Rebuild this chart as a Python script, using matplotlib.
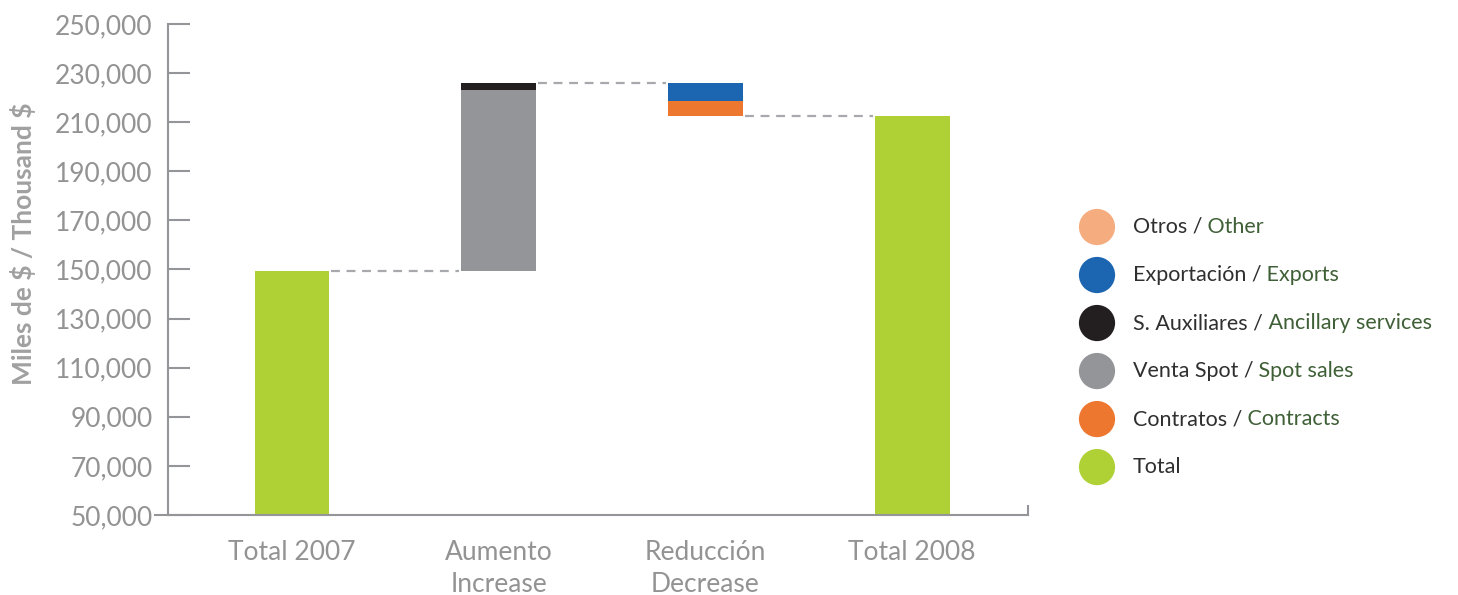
import matplotlib.pyplot as plt

# Ingresos 2007 -> 2008 (miles de $)
categorias = ['Total 2007', 'Aumento\nIncrease', 'Reducción\nDecrease', 'Total 2008']
total_2007 = 149500
aumento_spot = 73600
aumento_auxiliares = 2900
reduccion_exportacion = 7400
reduccion_contratos = 6100
total_2008 = 212500

yticks = list(range(50000, 250001, 20000))

leyenda_es = ['Otros /', 'Exportación /', 'S. Auxiliares /', 'Venta Spot /', 'Contratos /', 'Total']
leyenda_en = ['Other', 'Exports', 'Ancillary services', 'Spot sales', 'Contracts', '']

VERDE = '#afd136'
GRIS = '#939598'
NEGRO = '#231f20'
AZUL = '#1c66b1'
NARANJA = '#ee7730'
SALMON = '#f5ad80'
colores_leyenda = [SALMON, AZUL, NEGRO, GRIS, NARANJA, VERDE]

EJE = '#939598'
TEXTO = '#939393'

plt.rcParams['font.family'] = ['Lato', 'DejaVu Sans']

fig = plt.figure(figsize=(14.58, 5.95), dpi=100)
ax = fig.add_axes([0.1152, 0.1345, 0.5898, 0.8252])

ancho = 0.362
x = list(range(len(categorias)))

# barras de totales
ax.bar(x[0], total_2007, width=ancho, color=VERDE)
ax.bar(x[3], total_2008, width=ancho, color=VERDE)

# aumento
ax.bar(x[1], aumento_spot, bottom=total_2007, width=ancho, color=GRIS)
ax.bar(x[1], aumento_auxiliares, bottom=total_2007 + aumento_spot, width=ancho, color=NEGRO)

# reduccion
pico = total_2007 + aumento_spot + aumento_auxiliares
ax.bar(x[2], reduccion_exportacion, bottom=pico - reduccion_exportacion, width=ancho, color=AZUL)
ax.bar(x[2], reduccion_contratos, bottom=pico - reduccion_exportacion - reduccion_contratos,
       width=ancho, color=NARANJA)

# lineas de union entre barras
niveles = [total_2007, pico, pico - reduccion_exportacion - reduccion_contratos]
for i, nivel in enumerate(niveles):
    ax.plot([x[i] + ancho / 2 + 0.01, x[i + 1] - ancho / 2 - 0.01], [nivel, nivel],
            color='#a7a9ac', lw=1.6, ls=(0, (4, 3)))

ax.set_xlim(-0.6, 3.56)
ax.set_ylim(50000, 250000)
ax.set_yticks(yticks)
ax.set_yticklabels([f'{v:,}' for v in yticks])
ax.set_xticks(x)
ax.set_xticklabels(categorias, linespacing=1.35)

for s in ['top', 'right']:
    ax.spines[s].set_visible(False)
for s in ['left', 'bottom']:
    ax.spines[s].set_color(EJE)
    ax.spines[s].set_linewidth(1.5)

ax.tick_params(axis='y', direction='in', length=16, width=1.5, color=EJE,
               labelsize=19, labelcolor=TEXTO, pad=11)
ax.tick_params(axis='x', length=0, labelsize=19, labelcolor=TEXTO, pad=18)

# prolongacion del eje inferior y marca final
ax.plot([-0.015, 0], [0, 0], transform=ax.transAxes, color=EJE, lw=1.5, clip_on=False)
ax.plot([1, 1], [0, 0.018], transform=ax.transAxes, color=EJE, lw=1.5, clip_on=False)

fig.text(0.016, 0.59, r'Miles de \$ / Thousand \$', rotation=90, va='center', ha='center',
         fontsize=19, fontweight='bold', color='#a0a0a0')

# leyenda
lax = fig.add_axes([0, 0, 1, 1])
lax.set_xlim(0, 1)
lax.set_ylim(0, 1)
lax.axis('off')
y0 = 0.6185
paso = 0.0807
for k, (es, en, c) in enumerate(zip(leyenda_es, leyenda_en, colores_leyenda)):
    yy = y0 - k * paso
    lax.scatter([0.7524], [yy], s=680, color=c, edgecolors='none')
    t = lax.text(0.777, yy, es, fontsize=15.5, color='#2f2f2f', va='center')
    if en:
        lax.annotate(' ' + en, xy=(1, 0), xycoords=t, va='bottom', ha='left',
                     fontsize=15.5, color='#3f5f36')

fig.savefig('out.png', dpi=100)
